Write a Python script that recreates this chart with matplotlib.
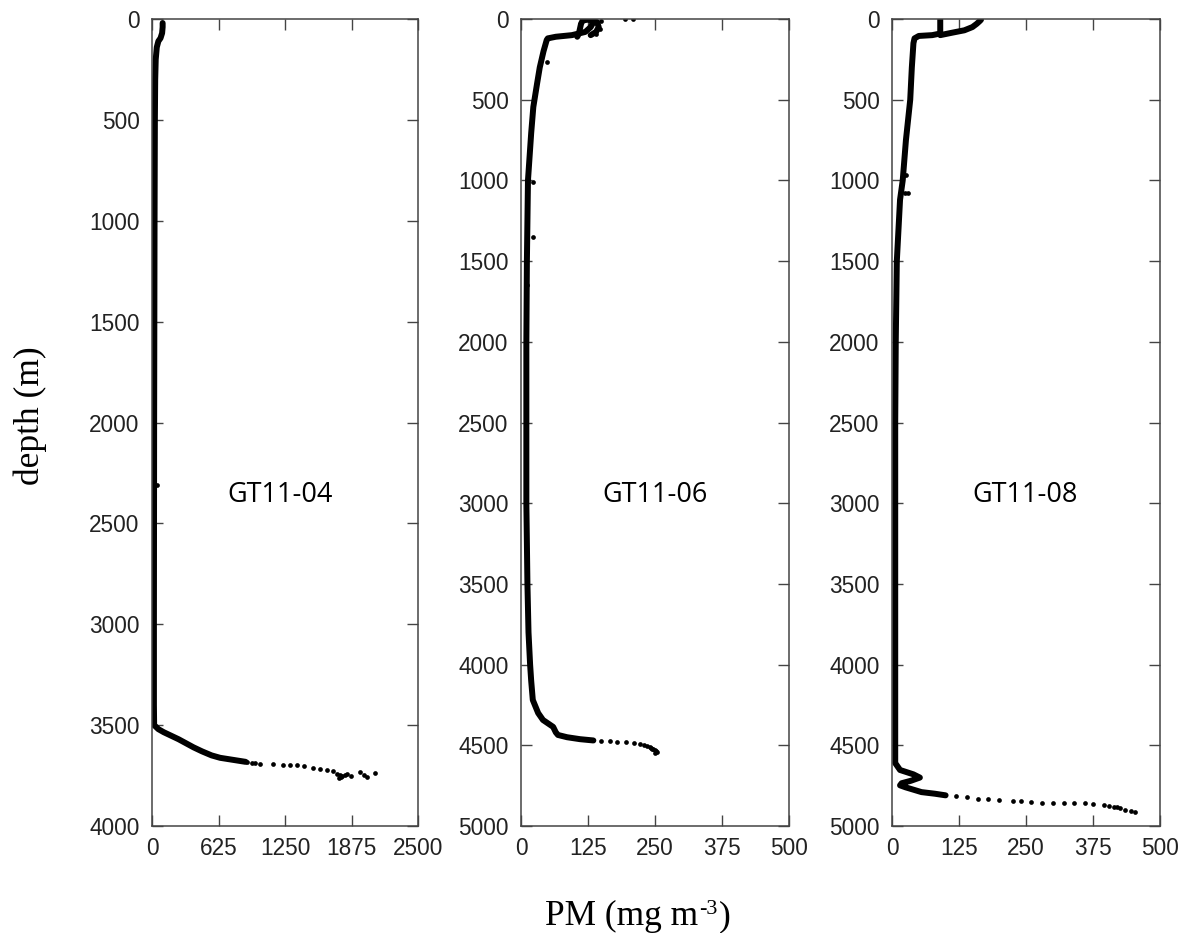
import matplotlib
matplotlib.use("Agg")
import matplotlib.pyplot as plt
import numpy as np

# ---------------- data ----------------
station_labels = ["GT11-04", "GT11-06", "GT11-08"]
x_limits = [2500, 500, 500]
y_limits = [4000, 5000, 5000]
x_ticks = [[0, 625, 1250, 1875, 2500], [0, 125, 250, 375, 500], [0, 125, 250, 375, 500]]

# GT11-04 dense profile
d04 = [20, 40, 70, 95, 110, 140, 200, 300, 500, 1000, 1500, 2000, 2500, 3000, 3400, 3500,
       3520, 3535, 3550, 3570, 3590, 3610, 3630, 3650, 3662, 3672, 3682]
pm04 = [100, 100, 95, 80, 60, 45, 35, 30, 27, 24, 22, 20, 19, 18, 18, 20,
        60, 110, 170, 250, 320, 390, 470, 560, 640, 760, 880]
# GT11-04 sparse points
d04_pts = [2310, 3685, 3688, 3690, 3692, 3692, 3697, 3697, 3700, 3705, 3712, 3716,
           3722, 3728, 3740, 3746, 3752, 3758, 3748, 3740, 3731, 3756, 3745, 3736, 3760, 3750]
pm04_pts = [45, 893, 940, 970, 1015, 1140, 1230, 1300, 1360, 1430, 1513, 1580,
            1645, 1700, 1740, 1767, 1790, 1780, 1810, 1830, 1955, 2020, 1990, 2096, 1760, 1870]

# GT11-06 dense profile
d06 = [0, 20, 50, 80, 100, 110, 120, 130, 200, 300, 400, 545, 707, 1000, 1500, 2000, 2500,
       3000, 3500, 3800, 4000, 4100, 4219, 4300, 4343, 4386, 4420, 4436, 4450, 4462, 4470]
pm06 = [125, 135, 130, 120, 95, 65, 50, 48, 42, 35, 30, 23, 19, 13, 11, 10, 10,
        10, 12, 14, 17, 19, 22, 32, 41, 60, 65, 69, 86, 110, 135]
# GT11-06 surface loop
d06_branch = [110, 90, 60, 30, 10, 0, 20, 50, 80, 100]
pm06_branch = [105, 108, 110, 112, 115, 130, 142, 145, 140, 130]
d06_pts = [0, 0, 10, 30, 60, 90, 268, 1009, 1350, 1650, 4473, 4476, 4479, 4482, 4486, 4492,
           4500, 4505, 4510, 4515, 4520, 4525, 4530, 4535, 4541, 4545]
pm06_pts = [194, 209, 150, 110, 148, 140, 48, 23, 22, 11, 150, 166, 180, 195, 210, 222,
            230, 235, 240, 243, 245, 247, 250, 251, 253, 250]

# GT11-08 dense profile
d08 = [0, 30, 60, 90, 100, 105, 120, 150, 300, 500, 750, 1000, 1120, 1500, 2000, 2500,
       3000, 3500, 4000, 4500, 4610, 4653, 4680, 4700, 4720, 4735, 4748, 4760, 4775,
       4790, 4800, 4810]
pm08 = [90, 90, 90, 90, 75, 50, 42, 40, 37, 34, 26, 20, 15, 9, 7, 6,
        6, 6, 6, 6, 6, 15, 40, 52, 35, 18, 15, 25, 40,
        55, 80, 100]
# GT11-08 surface branch
d08_branch = [100, 85, 70, 50, 30, 15, 5]
pm08_branch = [90, 112, 135, 150, 158, 163, 166]
d08_pts = [967, 1080, 1080, 1300, 4815, 4822, 4830, 4835, 4840, 4845, 4848, 4852, 4855,
           4855, 4858, 4860, 4860, 4862, 4868, 4875, 4880, 4885, 4890, 4900, 4905, 4913]
pm08_pts = [26, 25, 30, 12, 120, 140, 160, 180, 200, 226, 240, 260, 280,
            300, 320, 340, 360, 375, 395, 405, 415, 420, 425, 435, 445, 453]

# ---------------- figure ----------------
fig = plt.figure(figsize=(11.86, 9.33), dpi=100)
positions = [(152, 266), (521, 268), (892, 268)]
top_px, bot_px = 19, 826
W, H = 1186, 933

profiles = [
    [(d04, pm04)],
    [(d06, pm06), (d06_branch, pm06_branch)],
    [(d08, pm08), (d08_branch, pm08_branch)],
]
points = [(d04_pts, pm04_pts), (d06_pts, pm06_pts), (d08_pts, pm08_pts)]
label_x = [0.48, 0.50, 0.495]

tick_font = dict(family="Liberation Sans", size=16.3, color="#222222")

for i in range(3):
    left, width = positions[i]
    ax = fig.add_axes([left / W, 1 - bot_px / H, width / W, (bot_px - top_px) / H])
    for d, p in profiles[i]:
        ax.plot(p, d, color="black", lw=4.3, solid_capstyle="round", solid_joinstyle="round")
    dp, pp = points[i]
    ax.plot(pp, dp, "o", color="black", ms=3.4, mew=0)
    ax.set_xlim(0, x_limits[i])
    ax.set_ylim(y_limits[i], 0)
    ax.set_xticks(x_ticks[i])
    ax.set_xticklabels([str(t) for t in x_ticks[i]], fontdict=tick_font)
    yt = list(range(0, y_limits[i] + 1, 500))
    ax.set_yticks(yt)
    ax.set_yticklabels([str(t) for t in yt], fontdict=tick_font)
    ax.tick_params(direction="in", length=8, width=1, top=True, right=True,
                   colors="#444444", labelcolor="#222222", pad=9)
    ax.tick_params(axis="x", pad=8)
    for s in ax.spines.values():
        s.set_color("#444444")
        s.set_linewidth(1.1)
    ax.text(label_x[i], 0.41, station_labels[i], transform=ax.transAxes,
            ha="center", va="center", family="Open Sans", fontsize=19.5)

fig.text(30 / W, 1 - 416 / H, "depth (m)", rotation=90, ha="center", va="center",
         family="Liberation Serif", fontsize=25.5)

t1 = fig.text(545 / W, 1 - 925 / H, "PM (mg m", ha="left", va="baseline",
              family="Liberation Serif", fontsize=25.5)
t2 = fig.text(0, 0, "-3", ha="left", va="baseline", family="Liberation Serif", fontsize=16)
t3 = fig.text(0, 0, ")", ha="left", va="baseline", family="Liberation Serif", fontsize=25.5)

fig.canvas.draw()
r = fig.canvas.get_renderer()
bb1 = t1.get_window_extent(r)
t2.set_position(((bb1.x1 + 1) / W, (1 - 925 / H) + 11 / H))
fig.canvas.draw()
bb2 = t2.get_window_extent(r)
t3.set_position(((bb2.x1 + 1) / W, 1 - 925 / H))

fig.savefig("out.png", dpi=100)
